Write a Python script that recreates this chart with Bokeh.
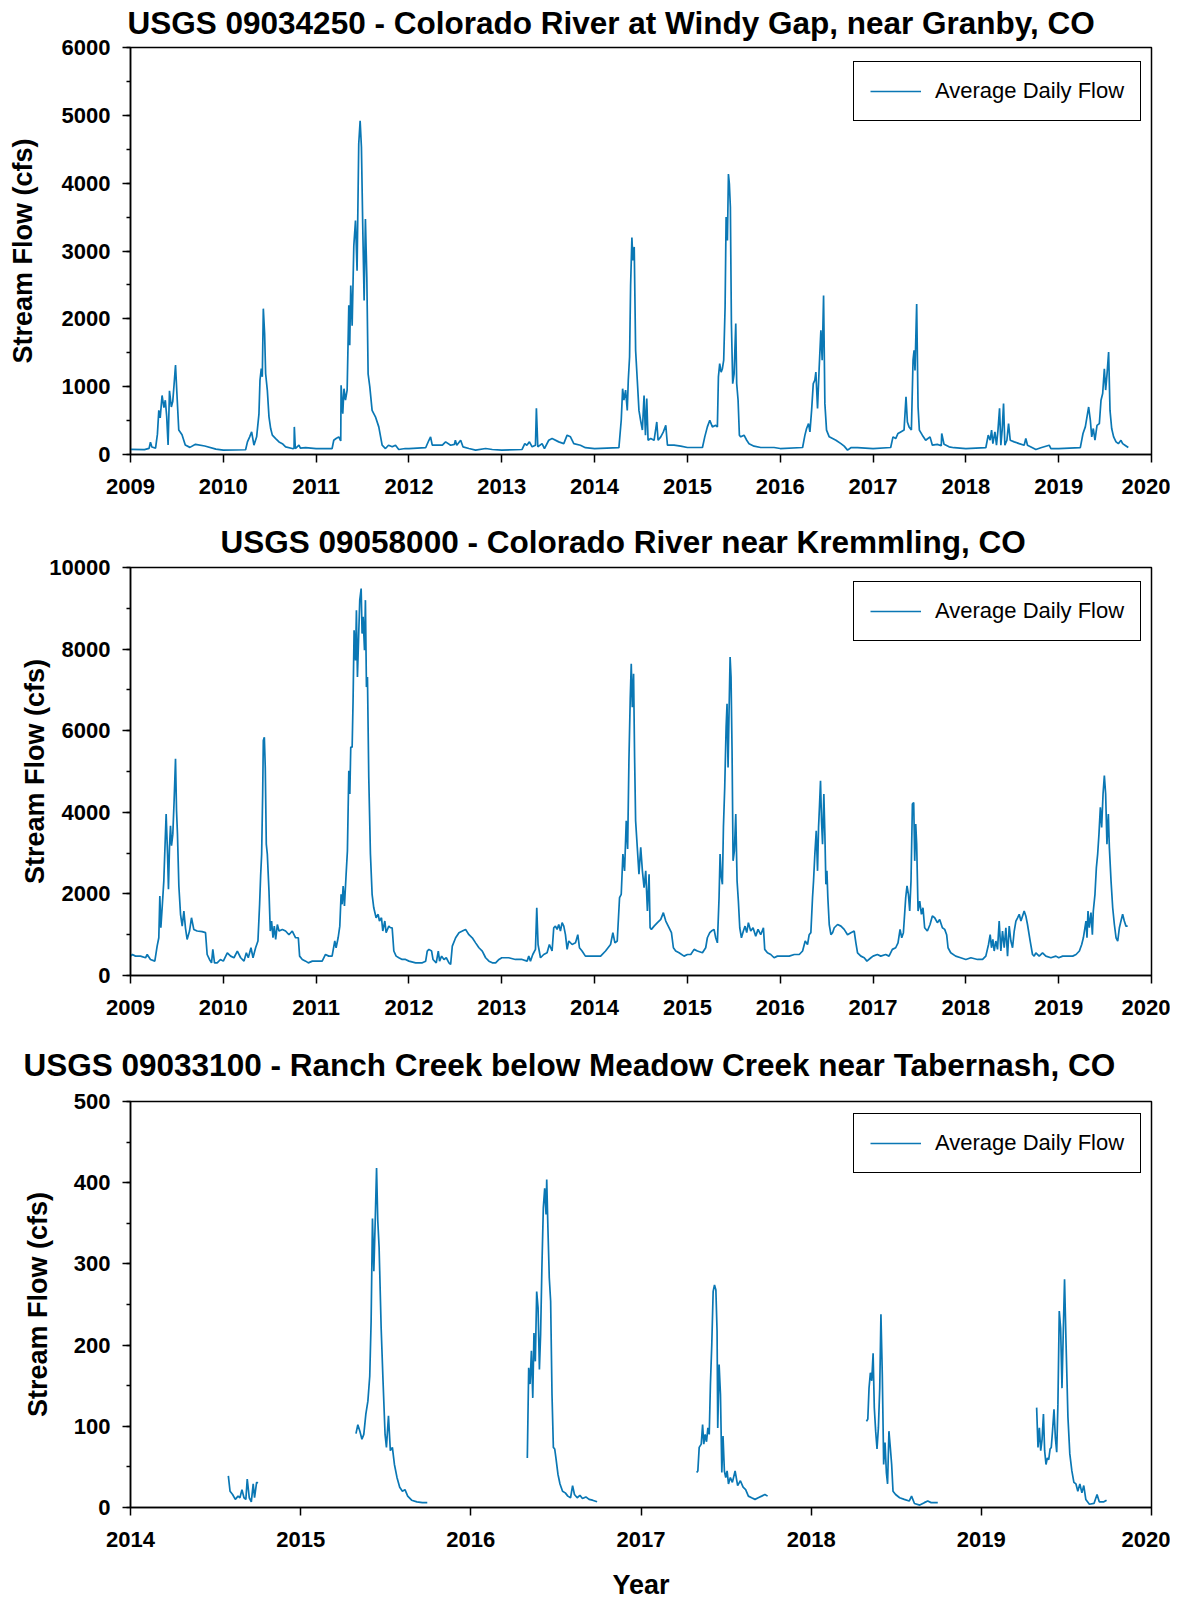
import math
from bokeh.plotting import figure
from bokeh.layouts import column
from bokeh.models import Range1d, FixedTicker, SingleIntervalTicker
from bokeh.embed import file_html
from bokeh.resources import INLINE

# ---------------- data (decimal year, cfs) ----------------
windy_t = [
    2009.00, 2009.15, 2009.20, 2009.215, 2009.23, 2009.27, 2009.29, 2009.305, 2009.32, 2009.34, 2009.36, 2009.375,
    2009.39, 2009.405, 2009.42, 2009.44, 2009.455, 2009.47, 2009.485, 2009.50, 2009.52, 2009.555, 2009.59, 2009.64,
    2009.70, 2009.80, 2009.92,
    2010.00, 2010.24, 2010.26, 2010.284, 2010.305, 2010.33, 2010.359, 2010.384, 2010.395, 2010.409, 2010.42, 2010.431,
    2010.445, 2010.456, 2010.474, 2010.492, 2010.51, 2010.528, 2010.564, 2010.60, 2010.636, 2010.671, 2010.743,
    2010.762, 2010.765, 2010.776, 2010.815, 2010.83, 2010.887,
    2011.00, 2011.172, 2011.19, 2011.215, 2011.244, 2011.265, 2011.269, 2011.287, 2011.30, 2011.316, 2011.334,
    2011.352, 2011.362, 2011.373, 2011.388, 2011.406, 2011.424, 2011.441, 2011.459, 2011.474, 2011.488, 2011.503,
    2011.517, 2011.531, 2011.546, 2011.56, 2011.578, 2011.603, 2011.639, 2011.675, 2011.711, 2011.747, 2011.78,
    2011.82, 2011.855, 2011.89, 2011.96,
    2012.00, 2012.18, 2012.215, 2012.233, 2012.251, 2012.36, 2012.395, 2012.449, 2012.49, 2012.50, 2012.515,
    2012.557, 2012.582, 2012.646, 2012.718, 2012.826, 2012.898,
    2013.00, 2013.219, 2013.248, 2013.27, 2013.298, 2013.327, 2013.363, 2013.373, 2013.388, 2013.434, 2013.46,
    2013.506, 2013.542, 2013.614, 2013.668, 2013.704, 2013.740, 2013.776, 2013.847, 2013.901,
    2014.00, 2014.262, 2014.287, 2014.302, 2014.316, 2014.334, 2014.352, 2014.363, 2014.377, 2014.388, 2014.402,
    2014.413, 2014.427, 2014.442, 2014.46, 2014.478, 2014.496, 2014.515, 2014.533, 2014.548, 2014.562, 2014.576,
    2014.605, 2014.641, 2014.67, 2014.684, 2014.713, 2014.741, 2014.767, 2014.785, 2014.856, 2014.928,
    2015.00, 2015.162, 2015.187, 2015.215, 2015.241, 2015.269, 2015.305, 2015.323, 2015.334, 2015.348, 2015.363,
    2015.377, 2015.391, 2015.406, 2015.417, 2015.431, 2015.442, 2015.452, 2015.463, 2015.474, 2015.488, 2015.503,
    2015.521, 2015.531, 2015.546, 2015.56, 2015.575, 2015.61, 2015.639, 2015.664, 2015.718, 2015.79, 2015.934,
    2016.00, 2016.241, 2016.266, 2016.284, 2016.305, 2016.32, 2016.338, 2016.356, 2016.373, 2016.384, 2016.402,
    2016.42, 2016.438, 2016.452, 2016.467, 2016.481, 2016.499, 2016.528, 2016.564, 2016.60, 2016.654, 2016.689,
    2016.725, 2016.761, 2016.833,
    2017.00, 2017.19, 2017.215, 2017.244, 2017.269, 2017.298, 2017.334, 2017.355, 2017.37, 2017.388, 2017.413,
    2017.431, 2017.442, 2017.452, 2017.47, 2017.485, 2017.499, 2017.531, 2017.567, 2017.614, 2017.639, 2017.693,
    2017.735, 2017.74, 2017.765, 2017.819, 2017.873,
    2018.00, 2018.215, 2018.241, 2018.262, 2018.277, 2018.291, 2018.313, 2018.33, 2018.346, 2018.363, 2018.377,
    2018.391, 2018.406, 2018.42, 2018.442, 2018.46, 2018.478, 2018.521, 2018.575, 2018.628, 2018.646, 2018.664,
    2018.718, 2018.754, 2018.808, 2018.898, 2018.916,
    2019.00, 2019.233, 2019.262, 2019.287, 2019.305, 2019.323, 2019.341, 2019.356, 2019.373, 2019.391, 2019.413,
    2019.438, 2019.456, 2019.474, 2019.492, 2019.506, 2019.52, 2019.538, 2019.553, 2019.571, 2019.592, 2019.618,
    2019.643, 2019.671, 2019.689, 2019.714, 2019.75,
]
windy_q = [
    75, 72, 90, 180, 110, 95, 300, 650, 540, 870, 690, 800,
    560, 140, 940, 700, 780, 1040, 1320, 900, 360, 290, 140, 105,
    150, 125, 80,
    65, 70, 186, 260, 333, 137, 260, 600, 1095, 1265, 1145, 2150,
    1780, 1190, 950, 555, 383, 285, 235, 186, 160, 113, 88,
    90, 407, 88, 137, 95, 100,
    88, 88, 210, 235, 260, 200, 1020, 600, 970, 800, 950,
    2200, 1610, 2490, 1900, 3080, 3450, 2710, 4580, 4920, 4530, 3300,
    2270, 3470, 2615, 1190, 1000, 650, 555, 407, 137, 88, 137,
    113, 137, 74, 88,
    88, 100, 210, 260, 137, 137, 186, 137, 150, 210, 137,
    210, 113, 88, 64, 88, 74,
    65, 74, 160, 137, 186, 113, 137, 680, 113, 160, 88,
    210, 235, 186, 160, 285, 260, 160, 137, 100,
    88, 100, 505, 970, 800, 950, 650, 1095, 1440, 2490, 3200,
    2860, 3060, 1535, 1095, 650, 500, 360, 870, 285, 825, 210,
    235, 210, 480, 210, 260, 333, 430, 137, 137, 123,
    103, 103, 260, 407, 505, 407, 430, 407, 1145, 1340, 1215,
    1265, 1390, 2175, 3500, 3155, 4135, 3990, 3645, 1930, 1045, 1190,
    1930, 1045, 800, 285, 260, 285, 210, 160, 123, 103, 103,
    88, 103, 285, 383, 456, 333, 650, 1045, 1095, 1215, 680,
    1290, 1830, 1390, 2345, 750, 360, 260, 235, 210, 160, 123,
    64, 100, 100,
    88, 103, 260, 235, 310, 333, 360, 850, 480, 407, 360,
    1390, 1535, 1240, 2220, 700, 360, 285, 210, 260, 137, 150,
    130, 310, 150, 113, 100,
    88, 100, 285, 210, 360, 160, 333, 137, 360, 680, 137,
    360, 750, 137, 210, 456, 210, 186, 160, 137, 235, 137,
    100, 74, 100, 137, 88,
    88, 100, 310, 407, 555, 700, 505, 260, 383, 210, 430,
    456, 800, 900, 1265, 950, 1170, 1510, 650, 383, 260, 186,
    160, 210, 160, 137, 103,
]

kremm_t = [
    2009.00, 2009.02, 2009.054, 2009.108, 2009.162, 2009.18, 2009.215, 2009.262, 2009.287, 2009.305, 2009.316,
    2009.327, 2009.341, 2009.359, 2009.37, 2009.384, 2009.399, 2009.409, 2009.42, 2009.431, 2009.442, 2009.456,
    2009.47, 2009.485, 2009.496, 2009.506, 2009.521, 2009.539, 2009.557, 2009.575, 2009.592, 2009.61, 2009.636,
    2009.657, 2009.682, 2009.718, 2009.772, 2009.808, 2009.826, 2009.851, 2009.873, 2009.887, 2009.905, 2009.934,
    2009.969,
    2010.00, 2010.043, 2010.079, 2010.115, 2010.151, 2010.187, 2010.223, 2010.248, 2010.269, 2010.298, 2010.32,
    2010.348, 2010.373, 2010.391, 2010.402, 2010.413, 2010.424, 2010.431, 2010.442, 2010.452, 2010.463, 2010.474,
    2010.492, 2010.506, 2010.52, 2010.535, 2010.549, 2010.564, 2010.582, 2010.60, 2010.636, 2010.671, 2010.707,
    2010.743, 2010.779, 2010.808, 2010.822, 2010.851, 2010.887, 2010.916, 2010.959,
    2011.00, 2011.065, 2011.101, 2011.136, 2011.172, 2011.201, 2011.215, 2011.237, 2011.255, 2011.269, 2011.28,
    2011.291, 2011.305, 2011.323, 2011.337, 2011.352, 2011.363, 2011.373, 2011.388, 2011.398, 2011.409, 2011.424,
    2011.434, 2011.445, 2011.459, 2011.47, 2011.485, 2011.495, 2011.506, 2011.521, 2011.531, 2011.542, 2011.553,
    2011.567, 2011.585, 2011.603, 2011.621, 2011.646, 2011.668, 2011.682, 2011.704, 2011.718, 2011.74, 2011.754,
    2011.783, 2011.801, 2011.819, 2011.837, 2011.862, 2011.891, 2011.927, 2011.963,
    2012.00, 2012.072, 2012.144, 2012.18, 2012.197, 2012.215, 2012.244, 2012.259, 2012.294, 2012.316, 2012.33,
    2012.352, 2012.377, 2012.402, 2012.431, 2012.449, 2012.467, 2012.503, 2012.539, 2012.575, 2012.61, 2012.646,
    2012.682, 2012.718, 2012.754, 2012.79, 2012.826, 2012.862, 2012.898, 2012.934, 2012.97,
    2013.00, 2013.075, 2013.147, 2013.219, 2013.273, 2013.291, 2013.309, 2013.334, 2013.363, 2013.377, 2013.391,
    2013.417, 2013.452, 2013.488, 2013.513, 2013.542, 2013.56, 2013.578, 2013.596, 2013.614, 2013.632, 2013.65,
    2013.668, 2013.686, 2013.704, 2013.722, 2013.758, 2013.794, 2013.819, 2013.837, 2013.865, 2013.901, 2013.955,
    2014.00, 2014.065, 2014.118, 2014.172, 2014.197, 2014.219, 2014.244, 2014.269, 2014.287, 2014.305, 2014.323,
    2014.341, 2014.356, 2014.37, 2014.384, 2014.395, 2014.406, 2014.42, 2014.431, 2014.442, 2014.46, 2014.478,
    2014.497, 2014.515, 2014.533, 2014.551, 2014.569, 2014.587, 2014.598, 2014.612, 2014.641, 2014.677, 2014.713,
    2014.741, 2014.767, 2014.803, 2014.828, 2014.849, 2014.874, 2014.91, 2014.964,
    2015.00, 2015.036, 2015.072, 2015.108, 2015.162, 2015.197, 2015.215, 2015.241, 2015.259, 2015.287, 2015.305,
    2015.323, 2015.341, 2015.352, 2015.363, 2015.377, 2015.388, 2015.402, 2015.417, 2015.427, 2015.438, 2015.449,
    2015.46, 2015.47, 2015.481, 2015.492, 2015.506, 2015.521, 2015.535, 2015.549, 2015.564, 2015.582, 2015.603,
    2015.621, 2015.639, 2015.657, 2015.682, 2015.707, 2015.736, 2015.761, 2015.79, 2015.819, 2015.833, 2015.862,
    2015.898, 2015.934, 2015.969,
    2016.00, 2016.043, 2016.097, 2016.151, 2016.205, 2016.241, 2016.269, 2016.294, 2016.312, 2016.33, 2016.348,
    2016.359, 2016.373, 2016.388, 2016.402, 2016.413, 2016.424, 2016.434, 2016.445, 2016.456, 2016.47, 2016.481,
    2016.492, 2016.503, 2016.513, 2016.528, 2016.546, 2016.564, 2016.582, 2016.618, 2016.654, 2016.689, 2016.725,
    2016.761, 2016.797, 2016.815, 2016.833, 2016.869, 2016.905, 2016.934, 2016.977,
    2017.00, 2017.047, 2017.083, 2017.136, 2017.172, 2017.208, 2017.244, 2017.269, 2017.291, 2017.309, 2017.327,
    2017.352, 2017.366, 2017.381, 2017.395, 2017.409, 2017.424, 2017.438, 2017.449, 2017.46, 2017.47, 2017.485,
    2017.503, 2017.521, 2017.538, 2017.556, 2017.585, 2017.614, 2017.639, 2017.664, 2017.693, 2017.718, 2017.747,
    2017.772, 2017.793, 2017.808, 2017.837, 2017.89, 2017.944,
    2018.00, 2018.054, 2018.126, 2018.18, 2018.215, 2018.244, 2018.262, 2018.276, 2018.291, 2018.305, 2018.323,
    2018.341, 2018.359, 2018.377, 2018.395, 2018.413, 2018.431, 2018.449, 2018.467, 2018.485, 2018.503, 2018.521,
    2018.539, 2018.557, 2018.575, 2018.593, 2018.611, 2018.628, 2018.646, 2018.664, 2018.693, 2018.718, 2018.736,
    2018.754, 2018.79, 2018.826, 2018.862, 2018.916, 2018.97,
    2019.00, 2019.043, 2019.097, 2019.151, 2019.187, 2019.223, 2019.248, 2019.266, 2019.294, 2019.305, 2019.316,
    2019.33, 2019.348, 2019.363, 2019.373, 2019.391, 2019.406, 2019.42, 2019.434, 2019.449, 2019.463, 2019.478,
    2019.492, 2019.506, 2019.52, 2019.535, 2019.546, 2019.564, 2019.582, 2019.60, 2019.618, 2019.636, 2019.654,
    2019.671, 2019.689, 2019.707, 2019.725, 2019.743,
]
kremm_q = [
    475, 515, 475, 475, 435, 515, 393, 352, 720, 925, 1950,
    1170, 1660, 2320, 3055, 3955, 2975, 2115, 3140, 3670, 3180, 3465,
    4285, 5310, 4040, 3465, 2195, 1500, 1210, 1580, 1170, 885, 1090,
    1415, 1130, 1090, 1075, 1050, 515, 393, 310, 640, 310, 310,
    393,
    352, 557, 475, 435, 600, 435, 352, 557, 435, 680, 435,
    680, 845, 1745, 2440, 2975, 4450, 5760, 5840, 5100, 3220, 2975,
    2070, 1090, 1335, 925, 1210, 885, 1250, 1090, 1130, 1090, 1000,
    1090, 925, 925, 475, 393, 352, 310, 352,
    352, 352, 515, 475, 475, 845, 680, 925, 1210, 1990, 1745,
    2195, 1705, 2480, 3055, 5020, 4450, 5595, 5595, 6740, 8460, 7720,
    8950, 7315, 8380, 9200, 9485, 8380, 8790, 7970, 9200, 7070, 7315,
    4860, 2975, 1990, 1660, 1415, 1500, 1335, 1415, 1090, 1335, 1050,
    1210, 1170, 1170, 600, 475, 435, 393, 393,
    352, 310, 310, 352, 600, 640, 600, 393, 310, 600, 352,
    475, 393, 435, 310, 270, 720, 925, 1050, 1090, 1130, 1000,
    925, 800, 680, 600, 435, 352, 310, 310, 393,
    435, 435, 393, 393, 352, 475, 352, 515, 640, 1660, 760,
    435, 515, 557, 760, 600, 1170, 1210, 1130, 1250, 1090, 1295,
    1210, 1000, 640, 845, 760, 800, 1000, 680, 600, 475, 475,
    475, 475, 600, 760, 1050, 800, 845, 1910, 1990, 2975, 2565,
    3790, 3100, 5270, 6780, 7640, 6575, 7395, 5350, 3790, 3140, 2480,
    3140, 2565, 2155, 2565, 1580, 2480, 1170, 1130, 1210, 1295, 1375,
    1540, 1335, 1170, 1050, 680, 600, 557, 475,
    515, 515, 640, 600, 557, 680, 925, 1050, 1090, 1130, 925,
    800, 1910, 2975, 2440, 2235, 3630, 4610, 6085, 6660, 5100, 6495,
    7805, 7315, 5510, 2810, 3055, 3955, 2320, 1825, 1170, 925, 1090,
    1210, 1050, 1295, 1090, 1170, 965, 1130, 1000, 1170, 640, 557,
    515, 435, 475,
    475, 475, 475, 515, 515, 600, 845, 760, 1000, 1050, 1910,
    2320, 2975, 3545, 2565, 3630, 4200, 4775, 3790, 3220, 4450, 3465,
    2235, 2565, 1910, 1250, 1000, 1050, 1170, 1250, 1210, 1130, 1000,
    1050, 1090, 800, 557, 475, 435, 352, 435,
    475, 515, 475, 515, 475, 640, 680, 800, 1130, 925, 1050,
    1910, 2195, 1990, 1580, 2320, 4200, 4240, 2810, 3710, 3220, 1580,
    1825, 1500, 1660, 1170, 1090, 1250, 1460, 1415, 1295, 1375, 1170,
    1130, 1000, 680, 557, 475, 435,
    393, 435, 393, 393, 475, 760, 1000, 680, 885, 600, 845,
    640, 1335, 600, 1090, 680, 1170, 475, 1210, 845, 680, 1090,
    1335, 1415, 1500, 1335, 1460, 1580, 1460, 1250, 845, 515, 475,
    557, 475, 557, 475, 435, 475,
    435, 475, 475, 475, 515, 600, 760, 925, 1335, 925, 1580,
    1170, 1540, 1000, 1580, 1990, 2645, 2975, 3465, 4120, 3630, 4450,
    4900, 4450, 3220, 3955, 3140, 2320, 1660, 1250, 925, 845, 1170,
    1335, 1500, 1335, 1210, 1210,
]

# Ranch Creek: seasonal records only (one list pair per season)
ranch_2014_t = [2014.575, 2014.585, 2014.600, 2014.616, 2014.632, 2014.643, 2014.655, 2014.667, 2014.678, 2014.686,
                2014.698, 2014.710, 2014.721, 2014.729, 2014.741, 2014.749]
ranch_2014_q = [39, 20, 16, 10, 14, 12, 22, 12, 10, 35, 12, 7, 29, 12, 31, 30]
ranch_2015_t = [2015.325, 2015.336, 2015.348, 2015.360, 2015.371, 2015.383, 2015.395, 2015.406, 2015.414, 2015.422,
                2015.430, 2015.438, 2015.446, 2015.453, 2015.461, 2015.473, 2015.484, 2015.496, 2015.504, 2015.516,
                2015.527, 2015.539, 2015.551, 2015.566, 2015.582, 2015.598, 2015.613, 2015.629, 2015.652, 2015.683,
                2015.715, 2015.744]
ranch_2015_q = [91, 102, 94, 84, 90, 115, 131, 162, 229, 356, 291, 352, 418, 354, 320, 221, 156, 90, 74, 113, 70,
                74, 53, 37, 25, 20, 22, 14, 9, 7, 6, 6]
ranch_2016_t = [2016.332, 2016.340, 2016.348, 2016.356, 2016.364, 2016.371, 2016.379, 2016.387, 2016.395, 2016.403,
                2016.410, 2016.418, 2016.426, 2016.434, 2016.442, 2016.446, 2016.453, 2016.461, 2016.469, 2016.477,
                2016.485, 2016.493, 2016.500, 2016.512, 2016.524, 2016.539, 2016.555, 2016.570, 2016.586, 2016.598,
                2016.609, 2016.625, 2016.641, 2016.656, 2016.676, 2016.695, 2016.715, 2016.742]
ranch_2016_q = [61, 172, 152, 193, 135, 215, 180, 266, 246, 170, 213, 299, 369, 393, 361, 404, 344, 283, 254, 139,
                74, 72, 61, 41, 29, 20, 18, 14, 12, 27, 16, 12, 15, 11, 13, 10, 9, 7]
ranch_2017_t = [2017.327, 2017.334, 2017.342, 2017.354, 2017.362, 2017.369, 2017.377, 2017.385, 2017.393, 2017.401,
                2017.408, 2017.416, 2017.424, 2017.432, 2017.440, 2017.447, 2017.451, 2017.459, 2017.467, 2017.475,
                2017.482, 2017.490, 2017.498, 2017.506, 2017.514, 2017.525, 2017.537, 2017.553, 2017.568, 2017.584,
                2017.600, 2017.615, 2017.631, 2017.650, 2017.670, 2017.689, 2017.709, 2017.728, 2017.744]
ranch_2017_q = [43, 45, 74, 78, 102, 78, 90, 81, 98, 90, 152, 201, 266, 274, 268, 217, 98, 176, 139, 43, 88, 45, 37,
                45, 29, 37, 31, 45, 27, 33, 25, 22, 14, 12, 10, 12, 14, 16, 14]
ranch_2018_t = [2018.325, 2018.333, 2018.340, 2018.348, 2018.356, 2018.364, 2018.371, 2018.379, 2018.387, 2018.395,
                2018.403, 2018.410, 2018.418, 2018.426, 2018.434, 2018.442, 2018.449, 2018.457, 2018.465, 2018.473,
                2018.481, 2018.496, 2018.520, 2018.547, 2018.576, 2018.590, 2018.607, 2018.638, 2018.665, 2018.685,
                2018.705, 2018.744]
ranch_2018_q = [106, 109, 147, 166, 156, 190, 123, 94, 72, 98, 147, 238, 164, 53, 80, 43, 29, 94, 74, 53, 20, 16,
                12, 10, 8, 14, 5, 3, 6, 8, 6, 6]
ranch_2019_t = [2019.325, 2019.333, 2019.341, 2019.349, 2019.357, 2019.365, 2019.372, 2019.380, 2019.388, 2019.396,
                2019.404, 2019.411, 2019.419, 2019.427, 2019.435, 2019.443, 2019.450, 2019.458, 2019.466, 2019.474,
                2019.482, 2019.489, 2019.497, 2019.509, 2019.520, 2019.532, 2019.544, 2019.556, 2019.567, 2019.579,
                2019.591, 2019.602, 2019.614, 2019.635, 2019.662, 2019.680, 2019.693, 2019.720, 2019.736]
ranch_2019_q = [123, 74, 98, 70, 84, 115, 70, 53, 61, 59, 72, 74, 96, 121, 86, 68, 127, 242, 221, 147, 221, 281,
                209, 111, 66, 45, 31, 29, 20, 29, 18, 27, 10, 4, 5, 16, 7, 7, 9]

windy_years = list(range(2009, 2021))
kremm_years = list(range(2009, 2021))
ranch_years = list(range(2014, 2021))

# ---------------- styling ----------------
LINE = "#0a77b4"
FONT = "Liberation Sans"
PAGE_W = 1170
FRAME_LEFT = 130
FRAME_RIGHT = 19


def make_panel(title, t, q, years, ymax, yint, height, top, bottom,
               title_offset, title_standoff, ylab_standoff, title_valign="bottom",
               xlabel=None):
    p = figure(width=PAGE_W, height=height,
               x_range=Range1d(years[0], years[-1]), y_range=Range1d(0, ymax),
               output_backend="svg", toolbar_location=None,
               min_border_left=FRAME_LEFT, min_border_right=FRAME_RIGHT,
               min_border_top=top, min_border_bottom=bottom)
    p.title.text = title
    p.title.align = "left"
    p.title.vertical_align = title_valign
    p.title.offset = title_offset
    p.title.standoff = title_standoff
    p.title.text_font = FONT
    p.title.text_font_style = "bold"
    p.title.text_font_size = "31.5px"
    p.title.text_color = "black"

    p.xgrid.visible = False
    p.ygrid.visible = False
    p.outline_line_color = "black"
    p.outline_line_width = 1.5
    p.outline_line_alpha = 1.0
    p.background_fill_color = "white"
    p.border_fill_color = "white"

    p.xaxis.ticker = FixedTicker(ticks=years, minor_ticks=[])
    p.yaxis.ticker = SingleIntervalTicker(interval=yint, num_minor_ticks=2)
    for ax in (p.xaxis[0], p.yaxis[0]):
        ax.axis_line_width = 1.5
        ax.axis_line_color = "black"
        ax.major_tick_in = 0
        ax.major_tick_out = 8
        ax.minor_tick_in = 0
        ax.minor_tick_out = 4
        ax.major_tick_line_width = 1.5
        ax.minor_tick_line_width = 1.5
        ax.major_tick_line_color = "black"
        ax.minor_tick_line_color = "black"
        ax.major_label_text_font = FONT
        ax.major_label_text_font_style = "bold"
        ax.major_label_text_font_size = "22px"
        ax.major_label_text_color = "black"
        ax.axis_label_text_font = FONT
        ax.axis_label_text_font_style = "bold"
        ax.axis_label_text_color = "black"
    p.yaxis.major_label_standoff = 12
    p.xaxis.major_label_standoff = 16
    p.yaxis.axis_label = "Stream Flow (cfs)"
    p.yaxis.axis_label_text_font_size = "27px"
    p.yaxis.axis_label_standoff = ylab_standoff
    if xlabel:
        p.xaxis.axis_label = xlabel
        p.xaxis.axis_label_text_font_size = "27px"
        p.xaxis.axis_label_standoff = 20

    p.line(t, q, line_color=LINE, line_width=1.7, legend_label="Average Daily Flow")

    frame_h = height - top - bottom
    frame_w = PAGE_W - FRAME_LEFT - FRAME_RIGHT
    lg = p.legend[0]
    lg.location = (frame_w - 8 - 290, frame_h - 16 - 58)
    lg.margin = 0
    lg.padding = 16
    lg.spacing = 0
    lg.glyph_width = 51
    lg.glyph_height = 26
    lg.label_height = 26
    lg.label_standoff = 14
    lg.label_text_font = FONT
    lg.label_text_font_size = "22px"
    lg.label_text_color = "black"
    lg.border_line_color = "black"
    lg.border_line_width = 1.8
    lg.border_line_alpha = 1.0
    lg.background_fill_alpha = 1.0
    return p


nan = float("nan")
ranch_t = (ranch_2014_t + [nan] + ranch_2015_t + [nan] + ranch_2016_t + [nan]
           + ranch_2017_t + [nan] + ranch_2018_t + [nan] + ranch_2019_t)
ranch_q = (ranch_2014_q + [nan] + ranch_2015_q + [nan] + ranch_2016_q + [nan]
           + ranch_2017_q + [nan] + ranch_2018_q + [nan] + ranch_2019_q)

p1 = make_panel("USGS 09034250 - Colorado River at Windy Gap, near Granby, CO",
                windy_t, windy_q, windy_years, 6000, 1000,
                height=505, top=47, bottom=51, title_offset=-3, title_standoff=9,
                ylab_standoff=21, title_valign="top")
p2 = make_panel("USGS 09058000 - Colorado River near Kremmling, CO",
                kremm_t, kremm_q, kremm_years, 10000, 2000,
                height=520, top=62, bottom=50, title_offset=90, title_standoff=16, ylab_standoff=-4)
p3 = make_panel("USGS 09033100 - Ranch Creek below Meadow Creek near Tabernash, CO",
                ranch_t, ranch_q, ranch_years, 500, 100,
                height=577, top=76, bottom=93, title_offset=-107, title_standoff=38, ylab_standoff=18,
                xlabel="Year")

layout = column(p1, p2, p3, spacing=0)
open("out.html", "w").write(file_html(layout, INLINE))
